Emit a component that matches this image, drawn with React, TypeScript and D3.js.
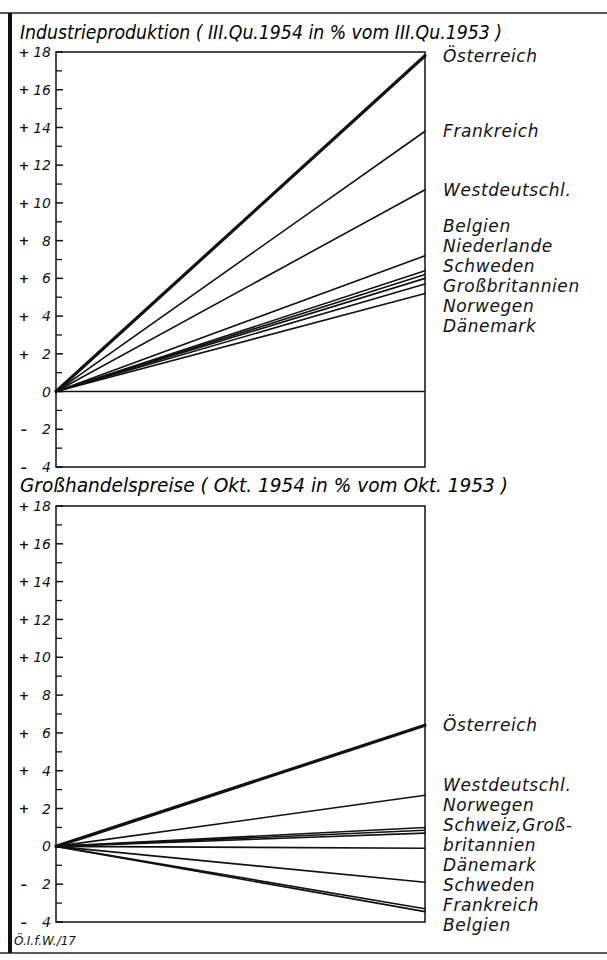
import * as d3 from "d3";
import React from "react";

// Industrieproduktion, III.Qu.1954 in % vom III.Qu.1953
const prodCountries = [
  "Österreich",
  "Frankreich",
  "Westdeutschl.",
  "Belgien",
  "Niederlande",
  "Schweden",
  "Großbritannien",
  "Norwegen",
  "Dänemark",
];
const prodValues = [17.8, 13.8, 10.7, 7.2, 6.4, 6.2, 6.0, 5.7, 5.2];

// Großhandelspreise, Okt. 1954 in % vom Okt. 1953
const priceCountries = [
  "Österreich",
  "Westdeutschl.",
  "Norwegen",
  "Schweiz",
  "Großbritannien",
  "Dänemark",
  "Schweden",
  "Frankreich",
  "Belgien",
];
const priceValues = [6.4, 2.7, 1.0, 0.85, 0.7, -0.1, -1.9, -3.3, -3.45];
// Schweiz and Großbritannien share one two-line label
const priceLabels = [
  "Österreich",
  "Westdeutschl.",
  "Norwegen",
  "Schweiz,Groß-",
  "britannien",
  "Dänemark",
  "Schweden",
  "Frankreich",
  "Belgien",
];

const yTickValues = [-4, -2, 0, 2, 4, 6, 8, 10, 12, 14, 16, 18];
const yMinorValues = [-3, -1, 1, 3, 5, 7, 9, 11, 13, 15, 17];

const FONT = "'DejaVu Sans', sans-serif";

// push labels apart, keeping each group centred on its line ends
function dodge(wanted: number[], gap: number) {
  const order = d3.range(wanted.length).sort((a, b) => wanted[a] - wanted[b]);
  let groups = order.map((i) => ({ items: [i], center: wanted[i] }));
  let changed = true;
  while (changed) {
    changed = false;
    for (let g = 1; g < groups.length; g++) {
      const prev = groups[g - 1];
      const cur = groups[g];
      const prevBottom = prev.center + ((prev.items.length - 1) / 2) * gap;
      const curTop = cur.center - ((cur.items.length - 1) / 2) * gap;
      if (curTop - prevBottom < gap) {
        const items = prev.items.concat(cur.items);
        const center = d3.mean(items, (i) => wanted[i]) as number;
        groups.splice(g - 1, 2, { items, center });
        changed = true;
        break;
      }
    }
  }
  const out: number[] = new Array(wanted.length);
  groups.forEach((g) => {
    g.items.forEach((i, k) => {
      out[i] = g.center - ((g.items.length - 1) / 2) * gap + k * gap;
    });
  });
  return out;
}

function App() {
  const svgRef = React.useRef(null);

  function Panel(
    svg: any,
    {
      title,
      titleLength,
      titleY,
      names,
      values,
      labels,
      top,
      bottom,
      zeroLine,
    }: any,
  ) {
    const left = 56;
    const right = 425;
    const x = d3.scaleLinear().domain([0, 1]).range([left, right]);
    const y = d3.scaleLinear().domain([-4, 18]).range([bottom, top]);

    const g = svg.append("g");

    g.append("text")
      .attr("x", 20)
      .attr("y", titleY)
      .attr("font-family", FONT)
      .attr("font-style", "italic")
      .attr("font-size", 19)
      .attr("textLength", titleLength)
      .attr("lengthAdjust", "spacingAndGlyphs")
      .text(title);

    // frame
    g.append("rect")
      .attr("x", left)
      .attr("y", y(18))
      .attr("width", right - left)
      .attr("height", y(-4) - y(18))
      .attr("fill", "none")
      .attr("stroke", "#111")
      .attr("stroke-width", 1.5);

    // ticks, pointing inside
    g.selectAll(".major")
      .data(yTickValues)
      .join("line")
      .attr("x1", left)
      .attr("x2", left + 7)
      .attr("y1", (d: number) => y(d))
      .attr("y2", (d: number) => y(d))
      .attr("stroke", "#111")
      .attr("stroke-width", 1.5);
    g.selectAll(".minor")
      .data(yMinorValues)
      .join("line")
      .attr("x1", left)
      .attr("x2", left + 6)
      .attr("y1", (d: number) => y(d))
      .attr("y2", (d: number) => y(d))
      .attr("stroke", "#111")
      .attr("stroke-width", 1.3);

    const tl = g
      .selectAll(".tl")
      .data(yTickValues)
      .join("g")
      .attr("transform", (d: number) => `translate(0,${y(d)})`)
      .attr("font-family", FONT)
      .attr("font-style", "italic")
      .attr("font-size", 14)
      .attr("fill", "#111");
    tl.append("text")
      .attr("x", 51)
      .attr("dy", "0.36em")
      .attr("text-anchor", "end")
      .text((d: number) => String(Math.abs(d)));
    tl.filter((d: number) => d !== 0)
      .append("text")
      .attr("x", 24)
      .attr("dy", "0.36em")
      .attr("text-anchor", "middle")
      .attr("font-weight", "bold")
      .attr("font-size", 13)
      .text((d: number) => (d > 0 ? "+" : "–"));

    if (zeroLine)
      g.append("line")
        .attr("x1", left)
        .attr("x2", right)
        .attr("y1", y(0))
        .attr("y2", y(0))
        .attr("stroke", "#111")
        .attr("stroke-width", 1.5);

    const line = d3
      .line<number>()
      .x((_d, i) => x(i))
      .y((d) => y(d));

    g.selectAll(".series")
      .data(values)
      .join("path")
      .attr("fill", "none")
      .attr("stroke", "#111")
      .attr("stroke-linecap", "round")
      .attr("stroke-width", (_d: number, i: number) => (names[i] === "Österreich" ? 3.2 : 1.6))
      .attr("d", (d: number) => line([0, d]));

    const ly = dodge(
      values.map((v: number) => y(v)),
      20,
    );
    g.selectAll(".label")
      .data(labels)
      .join("text")
      .attr("x", 443)
      .attr("y", (_d: string, i: number) => ly[i])
      .attr("dy", "0.36em")
      .attr("font-family", FONT)
      .attr("font-style", "italic")
      .attr("font-size", 17)
      .attr("letter-spacing", 0.6)
      .attr("fill", "#111")
      .text((d: string) => d);
  }

  React.useEffect(() => {
    const svg = d3.select(svgRef.current);
    svg.selectAll("*").remove();

    // outer border of the sheet
    svg
      .append("line")
      .attr("x1", 0)
      .attr("x2", 607)
      .attr("y1", 13)
      .attr("y2", 13)
      .attr("stroke", "#222")
      .attr("stroke-width", 1.5);
    svg
      .append("line")
      .attr("x1", 0)
      .attr("x2", 607)
      .attr("y1", 953)
      .attr("y2", 953)
      .attr("stroke", "#222")
      .attr("stroke-width", 1.5);
    svg
      .append("line")
      .attr("x1", 10)
      .attr("x2", 10)
      .attr("y1", 13)
      .attr("y2", 953)
      .attr("stroke", "#111")
      .attr("stroke-width", 4);

    Panel(svg, {
      title: "Industrieproduktion ( III.Qu.1954 in % vom III.Qu.1953 )",
      titleLength: 482,
      titleY: 39,
      names: prodCountries,
      values: prodValues,
      labels: prodCountries,
      top: 52,
      bottom: 467,
      zeroLine: true,
    });
    Panel(svg, {
      title: "Großhandelspreise ( Okt. 1954 in % vom Okt. 1953 )",
      titleLength: 488,
      titleY: 492,
      names: priceCountries,
      values: priceValues,
      labels: priceLabels,
      top: 506,
      bottom: 922,
      zeroLine: false,
    });

    svg
      .append("text")
      .attr("x", 14)
      .attr("y", 945)
      .attr("font-family", FONT)
      .attr("font-style", "italic")
      .attr("font-size", 12)
      .attr("fill", "#111")
      .text("Ö.I.f.W./17");
  }, []);

  return (
    <svg
      ref={svgRef}
      width={607}
      height={960}
      viewBox="0 0 607 960"
      style={{ position: "absolute", left: 0, top: 0, background: "#fff" }}
    />
  );
}

export default App;
